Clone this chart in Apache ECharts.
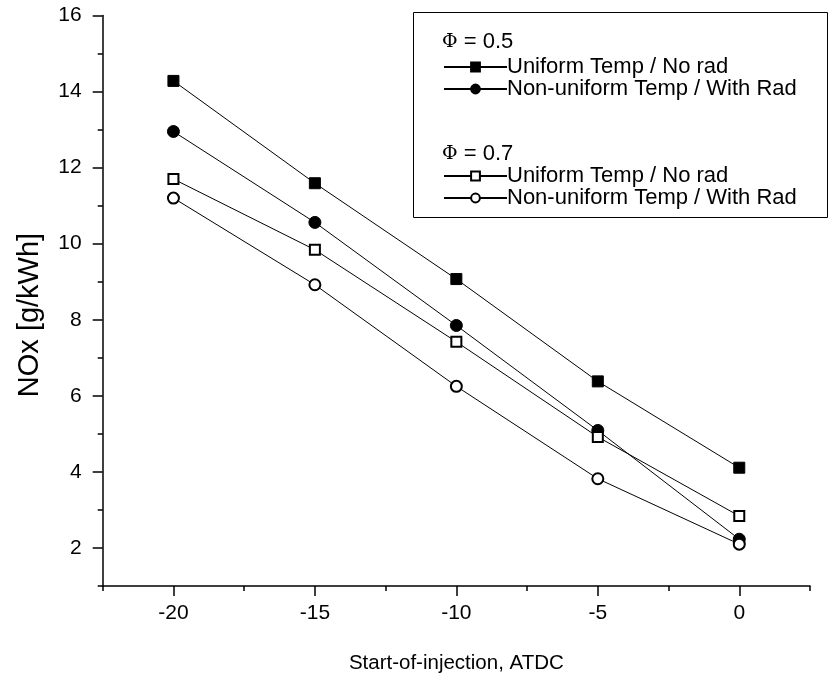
<!DOCTYPE html>
<html>
<head>
<meta charset="utf-8">
<script src="https://cdn.jsdelivr.net/npm/echarts@6/dist/echarts.min.js"></script>
<style>html,body{margin:0;padding:0;background:#fff}#c{width:829px;height:675px}</style>
</head>
<body>
<div id="c"></div>
<script>
const xValues = [-20, -15, -10, -5, 0];
const uniform05 = [14.28, 11.59, 9.07, 6.38, 4.11];
const nonUniform05 = [12.95, 10.56, 7.85, 5.09, 2.23];
const uniform07 = [11.70, 9.84, 7.42, 4.92, 2.84];
const nonUniform07 = [11.20, 8.92, 6.25, 3.82, 2.10];
const xMajorTicks = [-20, -15, -10, -5, 0];
const yMajorTicks = [2, 4, 6, 8, 10, 12, 14, 16];
const seriesNames = ['Uniform Temp / No rad', 'Non-uniform Temp / With Rad', 'Uniform Temp / No rad ', 'Non-uniform Temp / With Rad '];
const groupTitles = ['0.5', '0.7'];
const xTitle = 'Start-of-injection, ATDC';
const yTitle = 'NOx [g/kWh]';

const FONT = '"Liberation Sans", Arial, sans-serif';
const pair = (ys) => xValues.map((x, i) => [x, ys[i]]);
const gridBox = { left: 102.7, right: 19, top: 15.5, bottom: 89, outerBoundsMode: 'none', containLabel: false };

function mkSeries(name, data, symbol, size) {
  return {
    type: 'line', name, data: pair(data), xAxisIndex: 0, yAxisIndex: 0,
    symbol, symbolSize: size, showSymbol: true,
    lineStyle: { color: '#000', width: 1 },
    itemStyle: { color: '#000', borderColor: '#000', borderWidth: 1 },
    emphasis: { disabled: true }, animation: false
  };
}
function legendBlock(names, top) {
  return { data: names, orient: 'vertical', left: 443, top, padding: 0,
    itemWidth: 63, itemHeight: 11, itemGap: 0, selectedMode: false,
    textStyle: { fontFamily: FONT, fontSize: 22, color: '#000', padding: [0, 0, 0, -5] } };
}
function phiText(val, top) {
  return { type: 'text', left: 442, top, z: 10,
    style: { text: '{p|Φ} = ' + val, font: '22px ' + FONT, fill: '#000',
      rich: { p: { fontFamily: '"DejaVu Serif", serif', fontSize: 19, fill: '#000' } } } };
}

const chart = echarts.init(document.getElementById('c'), null, { renderer: 'canvas' });
chart.setOption({
  animation: false,
  grid: [Object.assign({}, gridBox), Object.assign({}, gridBox)],
  xAxis: [
    { type: 'value', gridIndex: 0, min: -22.5, max: 2.5, interval: 2.5,
      axisLine: { show: true, onZero: false, lineStyle: { color: '#000', width: 1.5 } },
      axisTick: { show: true, length: 5, lineStyle: { color: '#000', width: 1.5 } },
      axisLabel: { show: false }, splitLine: { show: false },
      name: xTitle, nameLocation: 'middle', nameGap: 67,
      nameTextStyle: { fontFamily: FONT, fontSize: 20.5, color: '#000' } },
    { type: 'value', gridIndex: 1, min: -22.5, max: 2.5, interval: 2.5,
      axisLine: { show: false, onZero: false },
      axisTick: { show: true, length: 10, customValues: xMajorTicks, lineStyle: { color: '#000', width: 1.5 } },
      axisLabel: { show: true, customValues: xMajorTicks, margin: 17, fontFamily: FONT, fontSize: 21, color: '#000' },
      splitLine: { show: false } }
  ],
  yAxis: [
    { type: 'value', gridIndex: 0, min: 1, max: 16, interval: 1,
      axisLine: { show: true, onZero: false, lineStyle: { color: '#000', width: 1.5 } },
      axisTick: { show: true, length: 5, lineStyle: { color: '#000', width: 1.5 } },
      axisLabel: { show: false }, splitLine: { show: false } },
    { type: 'value', gridIndex: 1, min: 1, max: 16, interval: 1,
      axisLine: { show: false, onZero: false },
      axisTick: { show: true, length: 10, customValues: yMajorTicks, lineStyle: { color: '#000', width: 1.5 } },
      axisLabel: { show: true, customValues: yMajorTicks, margin: 21, fontFamily: FONT, fontSize: 21, color: '#000' },
      splitLine: { show: false } }
  ],
  legend: [
    legendBlock([seriesNames[0], seriesNames[1]], 56),
    legendBlock([seriesNames[2], seriesNames[3]], 165)
  ],
  graphic: [
    { type: 'rect', shape: { x: 413.5, y: 12.5, width: 414, height: 205 },
      style: { fill: '#fff', stroke: '#000', lineWidth: 1 }, z: 0 },
    phiText(groupTitles[0], 31),
    phiText(groupTitles[1], 143),
    { type: 'text', x: 30, y: 315, rotation: Math.PI / 2, z: 10,
      style: { text: yTitle, font: '29px ' + FONT, fill: '#000', align: 'center', verticalAlign: 'middle' } }
  ],
  series: [
    mkSeries(seriesNames[0], uniform05, 'rect', 11),
    mkSeries(seriesNames[1], nonUniform05, 'circle', 12),
    mkSeries(seriesNames[2], uniform07, 'emptyRect', 10),
    mkSeries(seriesNames[3], nonUniform07, 'emptyCircle', 11)
  ]
});
</script>
</body>
</html>
